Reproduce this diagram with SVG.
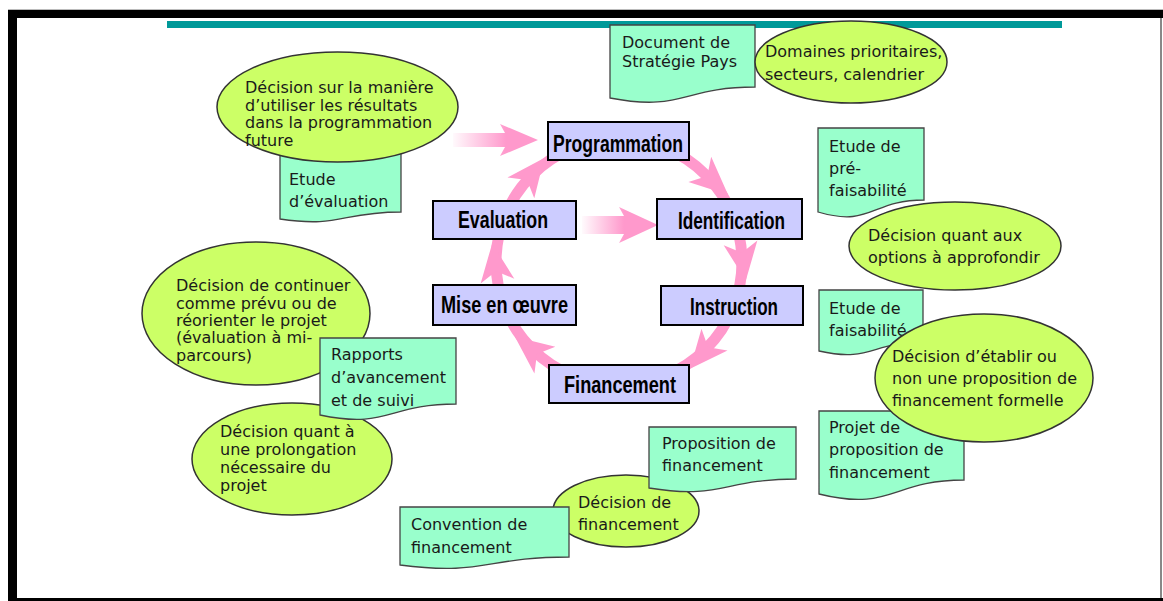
<svg xmlns="http://www.w3.org/2000/svg" width="1163" height="601" viewBox="0 0 1163 601">
  <style>
    .stage { fill: #ccccff; stroke: #000; stroke-width: 2; }
    .stage-label { font-family: "Liberation Sans", Arial, sans-serif; font-weight: bold; font-size: 24px; fill: #000; text-anchor: middle; }
    .bubble { fill: #ccff66; stroke: #333; stroke-width: 1.5; }
    .doc { fill: #99ffcc; stroke: #444; stroke-width: 1.3; }
    .t { font-family: "DejaVu Sans", "Liberation Sans", sans-serif; font-size: 16px; fill: #1a1a1a; }
    .ring { fill: none; stroke: #ff99cc; stroke-width: 11; }
    .head { fill: #ff99cc; }
  </style>
  <defs>
    <linearGradient id="fadeA" gradientUnits="userSpaceOnUse" x1="450" y1="0" x2="506" y2="0">
      <stop offset="0" stop-color="#ff99cc" stop-opacity="0"/>
      <stop offset="1" stop-color="#ff99cc" stop-opacity="1"/>
    </linearGradient>
    <linearGradient id="fadeB" gradientUnits="userSpaceOnUse" x1="580" y1="0" x2="624" y2="0">
      <stop offset="0" stop-color="#ff99cc" stop-opacity="0"/>
      <stop offset="1" stop-color="#ff99cc" stop-opacity="1"/>
    </linearGradient>
    <polygon id="arrowhead" points="36,0 -2,-17 8,0 -2,17"/>
  </defs>

  <!-- page frame -->
  <rect x="0" y="0" width="1163" height="601" fill="#fff"/>
  <line x1="8" y1="9.5" x2="1163" y2="9.5" stroke="#bbb" stroke-width="1"/>
  <rect x="8" y="10" width="1155" height="8" fill="#000"/>
  <rect x="8" y="10" width="9" height="591" fill="#000"/>
  <rect x="8" y="598" width="1155" height="3" fill="#000"/>
  <line x1="1161" y1="18" x2="1161" y2="598" stroke="#888" stroke-width="2"/>

  <!-- title rule -->
  <rect x="167" y="21" width="895" height="7" fill="#009999"/>

  <!-- connectors: project cycle ring and inputs -->
  <g id="connectors">
    <circle class="ring" cx="619" cy="262" r="123"/>
    <use href="#arrowhead" class="head" transform="translate(701.3,170.6) rotate(42)"/>
    <use href="#arrowhead" class="head" transform="translate(740.8,244.9) rotate(82)"/>
    <use href="#arrowhead" class="head" transform="translate(713.2,341.1) rotate(130)"/>
    <use href="#arrowhead" class="head" transform="translate(543.3,358.9) rotate(218)"/>
    <use href="#arrowhead" class="head" transform="translate(497.2,279.1) rotate(262)"/>
    <use href="#arrowhead" class="head" transform="translate(522.1,186.3) rotate(308)"/>
    <polygon fill="url(#fadeA)" points="453,133 505,133 500,124 538,140 500,156 505,147 453,147"/>
    <polygon fill="url(#fadeB)" points="582,216 624,216 619,207 658,225 619,243 624,234 582,234"/>
  </g>

  <!-- cycle stages -->
  <g id="stage-programmation">
    <rect class="stage" x="548" y="122" width="141" height="38"/>
    <text class="stage-label" x="618" y="152" textLength="130" lengthAdjust="spacingAndGlyphs">Programmation</text>
  </g>
  <g id="stage-identification">
    <rect class="stage" x="657" y="199" width="145" height="40"/>
    <text class="stage-label" x="731.5" y="229" textLength="107" lengthAdjust="spacingAndGlyphs">Identification</text>
  </g>
  <g id="stage-instruction">
    <rect class="stage" x="661" y="286" width="142" height="39"/>
    <text class="stage-label" x="734" y="315" textLength="88" lengthAdjust="spacingAndGlyphs">Instruction</text>
  </g>
  <g id="stage-financement">
    <rect class="stage" x="549" y="365" width="140" height="38"/>
    <text class="stage-label" x="620" y="393" textLength="112" lengthAdjust="spacingAndGlyphs">Financement</text>
  </g>
  <g id="stage-mise-en-oeuvre">
    <rect class="stage" x="433" y="285" width="143" height="40"/>
    <text class="stage-label" x="504.5" y="313" textLength="127" lengthAdjust="spacingAndGlyphs">Mise en œuvre</text>
  </g>
  <g id="stage-evaluation">
    <rect class="stage" x="433" y="201" width="143" height="38"/>
    <text class="stage-label" x="503" y="228" textLength="90" lengthAdjust="spacingAndGlyphs">Evaluation</text>
  </g>

  <!-- documents and decisions, top -->
  <g id="doc-strategie-pays">
    <path class="doc" d="M610,25 H755 V87 C682.5,87 682.5,112 610,98 Z"/>
    <text class="t" x="622" y="48">Document de</text>
    <text class="t" x="622" y="67">Stratégie Pays</text>
  </g>
  <g id="dec-domaines">
    <ellipse class="bubble" cx="851" cy="62" rx="96" ry="41"/>
    <text class="t" x="765" y="57">Domaines prioritaires,</text>
    <text class="t" x="765" y="80">secteurs, calendrier</text>
  </g>

  <!-- left side -->
  <g id="doc-etude-evaluation">
    <path class="doc" d="M280,142 H401 V212 C340.5,212 340.5,228 280,219 Z"/>
    <text class="t" x="289" y="185">Etude</text>
    <text class="t" x="289" y="207">d’évaluation</text>
  </g>
  <g id="dec-utilisation-resultats">
    <ellipse class="bubble" cx="337.5" cy="107" rx="120.5" ry="55"/>
    <text class="t" x="245" y="93">Décision sur la manière</text>
    <text class="t" x="245" y="110.5">d’utiliser les résultats</text>
    <text class="t" x="245" y="128">dans la programmation</text>
    <text class="t" x="245" y="145.5">future</text>
  </g>
  <g id="dec-continuer">
    <ellipse class="bubble" cx="256" cy="313.5" rx="114" ry="71.5"/>
    <text class="t" x="176" y="291">Décision de continuer</text>
    <text class="t" x="176" y="308.5">comme prévu ou de</text>
    <text class="t" x="176" y="326">réorienter le projet</text>
    <text class="t" x="176" y="343">(évaluation à mi-</text>
    <text class="t" x="176" y="360.5">parcours)</text>
  </g>
  <g id="dec-prolongation">
    <ellipse class="bubble" cx="292" cy="459" rx="100" ry="56"/>
    <text class="t" x="220" y="437">Décision quant à</text>
    <text class="t" x="220" y="455">une prolongation</text>
    <text class="t" x="220" y="473">nécessaire du</text>
    <text class="t" x="220" y="491">projet</text>
  </g>
  <g id="doc-rapports">
    <path class="doc" d="M320,338 H456 V404 C388,404 388,429.4 320,415 Z"/>
    <text class="t" x="331" y="360">Rapports</text>
    <text class="t" x="331" y="383">d’avancement</text>
    <text class="t" x="331" y="406">et de suivi</text>
  </g>

  <!-- bottom -->
  <g id="dec-financement">
    <ellipse class="bubble" cx="626" cy="511" rx="73" ry="36"/>
    <text class="t" x="578" y="508">Décision de</text>
    <text class="t" x="578" y="530">financement</text>
  </g>
  <g id="doc-convention">
    <path class="doc" d="M400,507 H569 V557 C484.5,557 484.5,576 400,565 Z"/>
    <text class="t" x="411" y="530">Convention de</text>
    <text class="t" x="411" y="553">financement</text>
  </g>
  <g id="doc-proposition">
    <path class="doc" d="M649,427 H796 V479 C722.5,479 722.5,500 649,488 Z"/>
    <text class="t" x="662" y="449">Proposition de</text>
    <text class="t" x="662" y="471">financement</text>
  </g>

  <!-- right side -->
  <g id="doc-prefaisabilite">
    <path class="doc" d="M818,128 H924 V200 C871,200 871,227.7 818,212 Z"/>
    <text class="t" x="829" y="152">Etude de</text>
    <text class="t" x="829" y="174">pré-</text>
    <text class="t" x="829" y="196">faisabilité</text>
  </g>
  <g id="dec-options">
    <ellipse class="bubble" cx="955" cy="246" rx="106" ry="44"/>
    <text class="t" x="868" y="241">Décision quant aux</text>
    <text class="t" x="868" y="263">options à approfondir</text>
  </g>
  <g id="doc-faisabilite">
    <path class="doc" d="M819,290 H923 V342 C871,342 871,362.8 819,351 Z"/>
    <text class="t" x="829" y="314">Etude de</text>
    <text class="t" x="829" y="336">faisabilité</text>
  </g>
  <g id="doc-projet-proposition">
    <path class="doc" d="M819,411 H964 V480 C891.5,480 891.5,512 819,494 Z"/>
    <text class="t" x="829" y="433">Projet de</text>
    <text class="t" x="829" y="455">proposition de</text>
    <text class="t" x="829" y="478">financement</text>
  </g>
  <g id="dec-proposition-formelle">
    <ellipse class="bubble" cx="984" cy="378" rx="109" ry="64"/>
    <text class="t" x="892" y="362">Décision d’établir ou</text>
    <text class="t" x="892" y="384">non une proposition de</text>
    <text class="t" x="892" y="406">financement formelle</text>
  </g>
</svg>
